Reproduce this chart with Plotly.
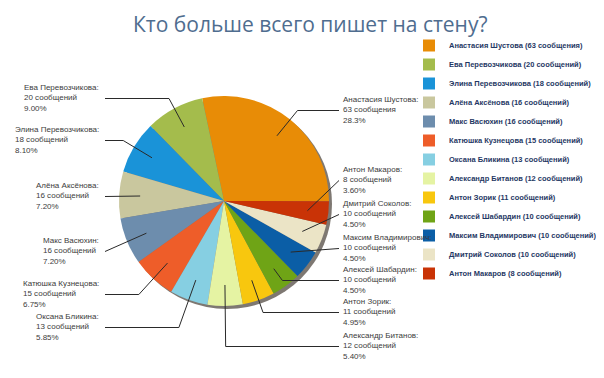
import math
import plotly.graph_objects as go

# ---------------- data ----------------
names = ["Анастасия Шустова", "Ева Перевозчикова", "Элина Перевозчикова", "Алёна Аксёнова",
         "Макс Васюхин", "Катюшка Кузнецова", "Оксана Бликина", "Александр Битанов",
         "Антон Зорик", "Алексей Шабардин", "Максим Владимирович", "Дмитрий Соколов",
         "Антон Макаров"]
messages = [63, 20, 18, 16, 16, 15, 13, 12, 11, 10, 10, 10, 8]
colors = ["#E88C06", "#A4BC4C", "#1A93D8", "#C9C79E", "#6D8DAD", "#EE5D29", "#86CFE2",
          "#E5F3A3", "#F8C70E", "#6FA416", "#0B5EA6", "#EBE4C6", "#C93306"]
title_text = "Кто больше всего пишет на стену?"

# label layout (side, first-line y in px)
label_side = ["R", "L", "L", "L", "L", "L", "L", "R", "R", "R", "R", "R", "R"]
label_y = [92, 80, 122, 178, 233, 276, 309, 328, 294, 262, 230, 196, 162]

# ---------------- helpers ----------------
W, H = 604, 378
def px(x):
    return x / W
def py(y):
    return 1 - y / H

def word(n):
    if n % 10 == 1 and n % 100 != 11:
        return "сообщение"
    if n % 10 in (2, 3, 4) and n % 100 not in (12, 13, 14):
        return "сообщения"
    return "сообщений"

total = sum(messages)
def pct(n):
    p = n / total * 100
    if p >= 10:
        return f"{math.floor(p * 10 + 1e-9) / 10:.1f}%"
    return f"{math.floor(p * 100 + 1e-9) / 100:.2f}%"

legend_labels = [f"{nm} ({n} {word(n)})" for nm, n in zip(names, messages)]

# pie geometry
CX, CY, R = 216, 193, 105
ROT = -12

fig = go.Figure()

# shadow
fig.add_trace(go.Pie(
    values=[1], labels=["shadow"], showlegend=False, sort=False,
    marker=dict(colors=["rgba(40,30,20,0.6)"]), textinfo="none", hoverinfo="skip",
    domain=dict(x=[px(CX - R + 3), px(CX + R + 3)], y=[py(CY + R + 3), py(CY - R + 3)]),
))

fig.add_trace(go.Pie(
    labels=legend_labels, values=messages, sort=False, direction="counterclockwise",
    rotation=ROT, marker=dict(colors=colors, line=dict(width=0)),
    textinfo="none", hoverinfo="label+percent",
    domain=dict(x=[px(CX - R), px(CX + R)], y=[py(CY + R), py(CY - R)]),
))

# mid angles (degrees clockwise from 12 o'clock)
angles = [v / total * 360 for v in messages]
mids = [ROT + angles[0] / 2]
cum = 0
for a in angles[1:]:
    mids.append(ROT - cum - a / 2)
    cum += a

shapes = []
annotations = []
K = 0.8
for i, nm in enumerate(names):
    th = math.radians(mids[i])
    dx, dy = math.sin(th), -math.cos(th)
    P = (CX + K * R * dx, CY + K * R * dy)
    fy = label_y[i]
    ay = fy + 10.5
    if label_side[i] == "L":
        ax = 97
        tx, xanchor = 92, "right"
    else:
        ax = 331
        tx, xanchor = 334, "left"
    elbow = None
    if abs(dy) > 1e-6:
        t = (ay - P[1]) / dy
        if t >= 0:
            ex = P[0] + t * dx
            if (label_side[i] == "L" and ex > ax + 3) or (label_side[i] == "R" and ex < ax - 3):
                elbow = (ex, ay)
    if elbow:
        path = f"M {px(ax)},{py(ay)} L {px(elbow[0])},{py(elbow[1])} L {px(P[0])},{py(P[1])}"
    else:
        path = f"M {px(ax)},{py(ay)} L {px(P[0])},{py(P[1])}"
    shapes.append(dict(type="path", xref="paper", yref="paper", path=path,
                       line=dict(color="#2a2a2a", width=1)))
    annotations.append(dict(
        x=px(tx), y=py(fy - 6), xref="paper", yref="paper", xanchor=xanchor, yanchor="top",
        align="left", showarrow=False,
        text=f"{nm}:<br>{messages[i]} {word(messages[i])}<br>{pct(messages[i])}",
        font=dict(family="Liberation Sans, Arial, sans-serif", size=8, color="#3c3c3c"),
        borderpad=0,
    ))

annotations.append(dict(
    x=px(302), y=py(16), xref="paper", yref="paper", xanchor="center", yanchor="middle",
    showarrow=False, text=title_text, borderpad=0,
    font=dict(family="Open Sans, sans-serif", size=21, color="#4F6D8F"),
))

fig.update_layout(
    width=W, height=H,
    margin=dict(l=0, r=0, t=0, b=0, autoexpand=False),
    paper_bgcolor="white", plot_bgcolor="white",
    shapes=shapes, annotations=annotations,
    legend=dict(x=px(401), y=py(23), xanchor="left", yanchor="top",
                font=dict(family="Liberation Sans, Arial, sans-serif", size=7.5, color="#1F3864",
                          weight="bold"),
                traceorder="normal", bgcolor="rgba(0,0,0,0)"),
)

fig.write_html("out.html")
